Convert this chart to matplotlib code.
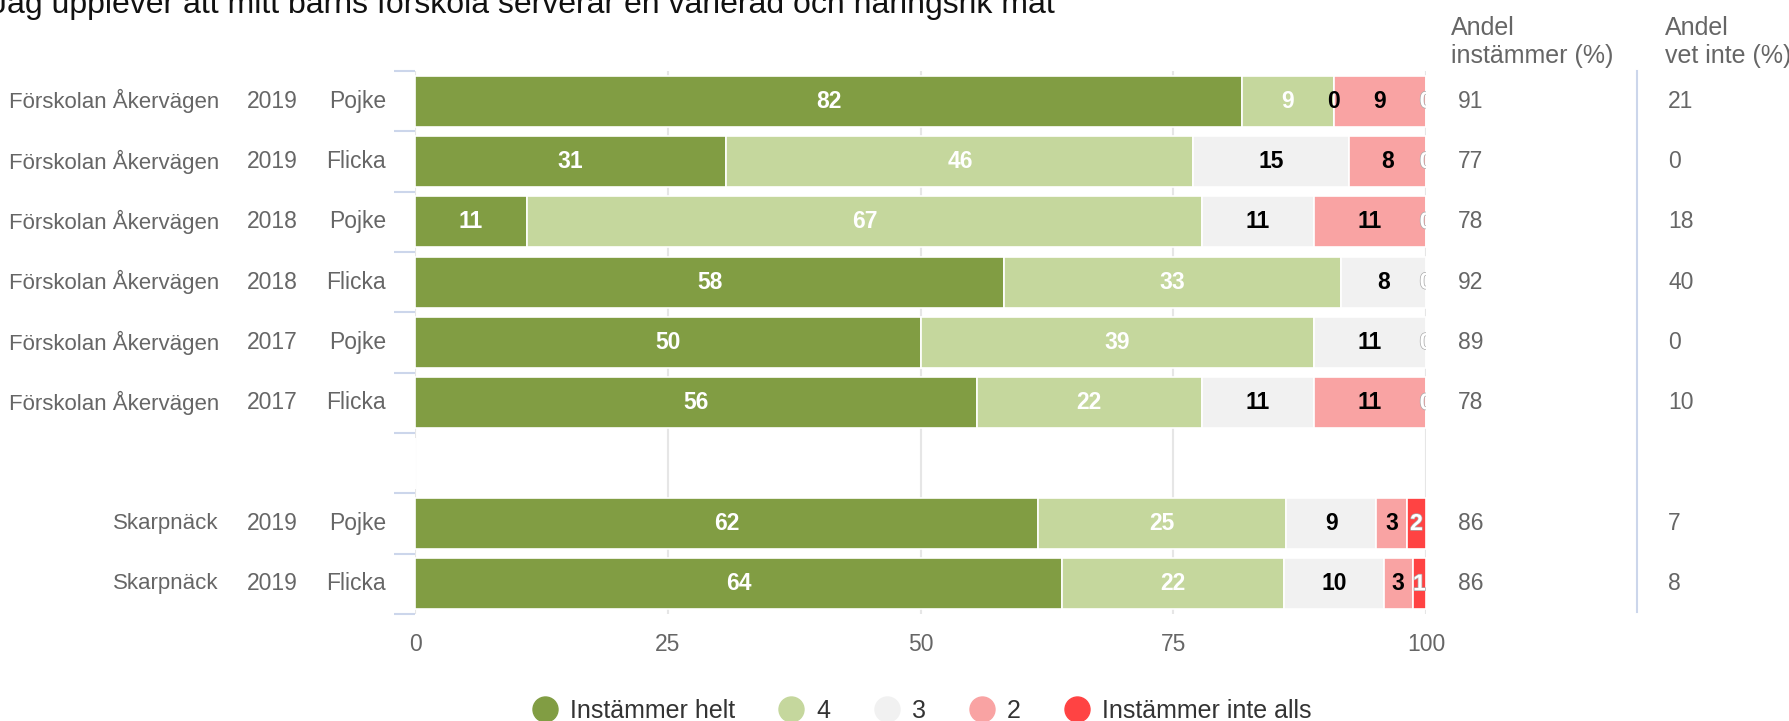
import numpy as np
import matplotlib
matplotlib.use('Agg')
import matplotlib.pyplot as plt
import matplotlib.patheffects as pe
from matplotlib.lines import Line2D

plt.rcParams['font.family'] = ['Liberation Sans', 'DejaVu Sans']

# Data (rad 7 är en tom rad mellan skolorna)
skolor = ['Förskolan Åkervägen'] * 6 + ['', 'Skarpnäck', 'Skarpnäck']
ar = ['2019', '2019', '2018', '2018', '2017', '2017', '', '2019', '2019']
kon = ['Pojke', 'Flicka', 'Pojke', 'Flicka', 'Pojke', 'Flicka', '', 'Pojke', 'Flicka']

instammer_helt = [81.8, 30.8, 11.1, 58.3, 50.0, 55.6, np.nan, 61.6, 64.0]
svar_4 = [9.1, 46.2, 66.7, 33.3, 38.9, 22.2, np.nan, 24.6, 22.0]
svar_3 = [0.0, 15.4, 11.1, 8.4, 11.1, 11.1, np.nan, 8.9, 9.8]
svar_2 = [9.1, 7.6, 11.1, 0.0, 0.0, 11.1, np.nan, 3.0, 2.9]
instammer_inte = [0.0, 0.0, 0.0, 0.0, 0.0, 0.0, np.nan, 1.9, 1.3]

andel_instammer = [91, 77, 78, 92, 89, 78, None, 86, 86]
andel_vet_inte = [21, 0, 18, 40, 0, 10, None, 7, 8]

serier = [instammer_helt, svar_4, svar_3, svar_2, instammer_inte]
namn = ['Instämmer helt', '4', '3', '2', 'Instämmer inte alls']
farger = ['#819d43', '#c5d79d', '#f1f1f1', '#f9a3a3', '#ff4343']
textfarger = ['white', 'white', 'black', 'black', 'white']

W, H = 1789, 721
fig = plt.figure(figsize=(W / 100, H / 100), dpi=100)
ax = fig.add_axes([415 / W, 1 - 614 / H, 1011 / W, 543 / H])

y = np.arange(len(kon))
vanster = np.zeros(len(kon))
etiketter = []
for s, (serie, farg, tfarg) in enumerate(zip(serier, farger, textfarger)):
    v = np.nan_to_num(np.array(serie, dtype=float))
    ax.barh(y, v, left=vanster, height=0.85, color=farg,
            edgecolor='white', linewidth=1.2, zorder=2)
    for i, val in enumerate(serie):
        if np.isnan(val):
            continue
        etiketter.append((i, vanster[i] + val / 2, val, tfarg, s))
    vanster += v

# Dataetiketter (dölj etikett om en senare etikett hamnar på samma plats)
for k, (i, cx, val, tfarg, s) in enumerate(etiketter):
    dold = any(j == i and abs(cx2 - cx) < 0.5
               for j, cx2, _, _, _ in etiketter[k + 1:])
    if dold:
        continue
    t = ax.text(cx, i, '%d' % round(val), ha='center', va='center',
                fontsize=16.5, fontweight='bold', color=tfarg,
                clip_on=True, zorder=3)
    if s == 4:
        t.set_path_effects([pe.withStroke(linewidth=1, foreground='#aaaaaa')])

ax.set_xlim(0, 100)
ax.set_ylim(len(kon) - 0.5, -0.5)
ax.set_xticks([0, 25, 50, 75, 100])
ax.grid(axis='x', color='#e6e6e6', linewidth=1.5, zorder=0)
ax.set_axisbelow(True)
ax.set_yticks(np.arange(-0.5, len(kon), 1.0))
ax.set_yticklabels([])
ax.tick_params(axis='y', length=15, width=1.5, color='#ccd6eb')
ax.tick_params(axis='x', length=0, pad=14, labelsize=16.5, labelcolor='#666666')
for sp in ax.spines.values():
    sp.set_visible(False)

trans = ax.get_yaxis_transform()
for i in range(len(kon)):
    if not kon[i]:
        continue
    ax.text(-0.1939, i, skolor[i], transform=trans, ha='right',
            va='center', fontsize=16, color='#666666')
    ax.text(-0.1157, i, ar[i], transform=trans, ha='right',
            va='center', fontsize=16.5, color='#666666')
    ax.text(-0.0287, i, kon[i], transform=trans, ha='right',
            va='center', fontsize=16.5, color='#666666')
    ax.text(1.0317, i, str(andel_instammer[i]), transform=trans, ha='left',
            va='center', fontsize=16.5, color='#666666')
    ax.text(1.2394, i, str(andel_vet_inte[i]), transform=trans, ha='left',
            va='center', fontsize=16.5, color='#666666')

# Kolumnrubriker
fig.text(1451 / W, 1 - 35 / H, 'Andel', va='baseline', fontsize=18, color='#666666')
fig.text(1451 / W, 1 - 63 / H, 'instämmer (%)', va='baseline', fontsize=18, color='#666666')
fig.text(1665 / W, 1 - 35 / H, 'Andel', va='baseline', fontsize=18, color='#666666')
fig.text(1665 / W, 1 - 63 / H, 'vet inte (%)', va='baseline', fontsize=18, color='#666666')
fig.add_artist(Line2D([1637 / W] * 2, [1 - 71 / H, 1 - 612 / H],
                      color='#ccd6eb', linewidth=1.5))

# Titel (beskuren i originalet)
fig.text(-9 / W, 1 - 13 / H,
         'Jag upplever att mitt barns förskola serverar en varierad och näringsrik mat',
         va='baseline', fontsize=23, color='#111111')

# Legend
handtag = [Line2D([], [], marker='o', linestyle='', markersize=18,
                  markerfacecolor=c, markeredgecolor=c) for c in farger]
fig.legend(handtag, namn, loc='center', bbox_to_anchor=(922 / W, 1 - 711 / H),
           ncol=5, frameon=False, fontsize=18, handletextpad=0.5,
           columnspacing=1.75, labelcolor='#333333', handlelength=1.0)

fig.savefig('out.png', dpi=100)
